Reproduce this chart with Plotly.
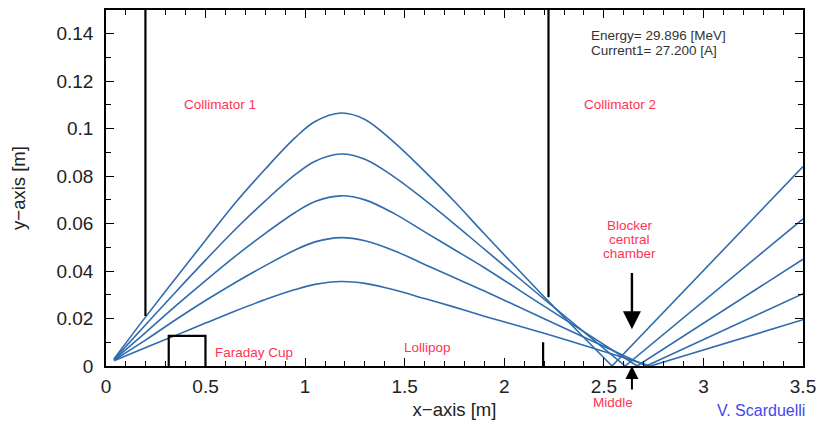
import plotly.graph_objects as go

# ---- data -------------------------------------------------------------------
# ray trajectories |y| vs x, one list per ray (curved part up to the focus)
x_a = [0.04, 0.20, 0.35, 0.50, 0.65, 0.80, 0.95, 1.05, 1.18, 1.30, 1.45, 1.60, 1.75, 1.90, 2.20, 2.541]
y_a = [0.0030, 0.0208, 0.0370, 0.0530, 0.0688, 0.0830, 0.0962, 0.1030, 0.1066, 0.1039, 0.0940,
       0.0820, 0.0693, 0.0557, 0.0292, 0.0]
x_b = [0.04, 0.20, 0.35, 0.50, 0.65, 0.80, 0.95, 1.05, 1.18, 1.30, 1.45, 1.60, 1.75, 1.90, 2.20, 2.607]
y_b = [0.0028, 0.0175, 0.0312, 0.0446, 0.0576, 0.0696, 0.0806, 0.0863, 0.0893, 0.0871, 0.0795,
       0.0700, 0.0598, 0.0492, 0.0282, 0.0]
x_c = [0.04, 0.20, 0.35, 0.50, 0.65, 0.80, 0.95, 1.05, 1.18, 1.30, 1.45, 1.60, 1.75, 1.90, 2.20, 2.667]
y_c = [0.0026, 0.0142, 0.0253, 0.0360, 0.0463, 0.0559, 0.0647, 0.0693, 0.0717, 0.0700, 0.0641,
       0.0565, 0.0490, 0.0414, 0.0252, 0.0]
x_d = [0.04, 0.20, 0.35, 0.50, 0.65, 0.80, 0.95, 1.05, 1.18, 1.30, 1.45, 1.60, 1.75, 1.90, 2.20, 2.713]
y_d = [0.0024, 0.0110, 0.0195, 0.0276, 0.0352, 0.0423, 0.0489, 0.0523, 0.0541, 0.0528, 0.0485,
       0.0428, 0.0372, 0.0316, 0.0199, 0.0]
x_e = [0.04, 0.20, 0.35, 0.50, 0.65, 0.80, 0.95, 1.05, 1.18, 1.30, 1.45, 1.60, 1.75, 1.90, 2.20, 2.734]
y_e = [0.0022, 0.0078, 0.0129, 0.0181, 0.0232, 0.0280, 0.0322, 0.0344, 0.0356, 0.0348, 0.0320,
       0.0284, 0.0248, 0.0210, 0.0138, 0.0]
# straight part after the focus (focus point, right edge)
x_out = [[2.541, 3.5], [2.607, 3.5], [2.667, 3.5], [2.713, 3.5], [2.734, 3.5]]
y_out = [[0.0, 0.0840], [0.0, 0.0620], [0.0, 0.0450], [0.0, 0.0305], [0.0, 0.0195]]

# beamline elements
coll1_x = [0.198, 0.198]
coll1_y = [0.0211, 0.15]
coll2_x = [2.222, 2.222]
coll2_y = [0.029, 0.15]
lolli_x = [2.195, 2.195]
lolli_y = [0.0, 0.010]
cup_x = [0.315, 0.315, 0.4995, 0.4995]
cup_y = [0.0, 0.0127, 0.0127, 0.0]

x_ticks = [0, 0.5, 1, 1.5, 2, 2.5, 3, 3.5]
y_ticks = [0, 0.02, 0.04, 0.06, 0.08, 0.1, 0.12, 0.14]

energy_txt = "Energy= 29.896 [MeV]"
current_txt = "Current1= 27.200 [A]"

# ---- styling ----------------------------------------------------------------
BLUE = "#2f6cad"
RED = "#ff3355"
FONT = "Liberation Sans, Arial, sans-serif"

fig = go.Figure()
for xs, ys in [(x_a, y_a), (x_b, y_b), (x_c, y_c), (x_d, y_d), (x_e, y_e)]:
    fig.add_trace(go.Scatter(x=xs, y=ys, mode="lines",
                             line=dict(color=BLUE, width=1.6, shape="spline", smoothing=1.0),
                             hoverinfo="skip", showlegend=False))
for xs, ys in zip(x_out, y_out):
    fig.add_trace(go.Scatter(x=xs, y=ys, mode="lines",
                             line=dict(color=BLUE, width=1.6),
                             hoverinfo="skip", showlegend=False))

for xs, ys in [(coll1_x, coll1_y), (coll2_x, coll2_y), (lolli_x, lolli_y), (cup_x, cup_y)]:
    fig.add_trace(go.Scatter(x=xs, y=ys, mode="lines",
                             line=dict(color="black", width=2.2),
                             hoverinfo="skip", showlegend=False))

def label(x, y, text, color=RED, size=13.5, xanchor="center", yref="y"):
    fig.add_annotation(x=x, y=y, text=text, showarrow=False, xref="x", yref=yref,
                       xanchor=xanchor, yanchor="middle",
                       font=dict(family=FONT, size=size, color=color))

label(0.574, 0.1102, "Collimator 1")
label(2.581, 0.1102, "Collimator 2")
label(0.744, 0.0055, "Faraday Cup")
label(1.613, 0.0080, "Lollipop")
label(2.631, 0.0592, "Blocker")
label(2.631, 0.0533, "central")
label(2.631, 0.0474, "chamber")
label(2.546, -0.103, "Middle", yref="paper")
label(2.426, 0.1394, energy_txt, color="#333333", size=13.5, xanchor="left")
label(2.426, 0.1329, current_txt, color="#333333", size=13.5, xanchor="left")
label(3.29, -0.125, "V. Scarduelli", color="#4545ee", size=16, yref="paper")

# arrows
fig.add_annotation(x=2.641, y=0.0155, ax=2.641, ay=0.0398, xref="x", yref="y",
                   axref="x", ayref="y", showarrow=True, arrowhead=2, arrowsize=1.5,
                   arrowwidth=2.4, arrowcolor="black", text="")
fig.add_annotation(x=2.641, y=0.0, ax=2.641, ay=-0.0105, xref="x", yref="y",
                   axref="x", ayref="y", showarrow=True, arrowhead=2, arrowsize=1.3,
                   arrowwidth=2.0, arrowcolor="black", text="")

axis_common = dict(showline=True, linecolor="black", linewidth=1.5, mirror="allticks",
                   ticks="inside", ticklen=8, tickwidth=1.2, tickcolor="black",
                   showgrid=False, zeroline=False,
                   tickfont=dict(family=FONT, size=19, color="#222222"))

fig.update_xaxes(range=[0, 3.5], tickvals=x_ticks, ticktext=[f"{v:g}" for v in x_ticks],
                 minor=dict(dtick=0.1, ticklen=5, tickwidth=1.2, tickcolor="black", ticks="inside"),
                 ticklabelstandoff=2,
                 title=dict(text="x\u2212axis [m]", font=dict(family=FONT, size=18.5, color="#222222"),
                            standoff=8),
                 **axis_common)
fig.update_yaxes(range=[0, 0.15], tickvals=y_ticks, ticktext=[f"{v:g}" for v in y_ticks],
                 minor=dict(dtick=0.01, ticklen=5, tickwidth=1.2, tickcolor="black", ticks="inside"),
                 ticklabelstandoff=7,
                 title=dict(text="y\u2212axis [m]", font=dict(family=FONT, size=18.5, color="#222222"),
                            standoff=26),
                 **axis_common)

fig.update_layout(width=824, height=425, margin=dict(l=106, r=17, t=8, b=58),
                  plot_bgcolor="white", paper_bgcolor="white", showlegend=False)

fig.write_html("out.html")
